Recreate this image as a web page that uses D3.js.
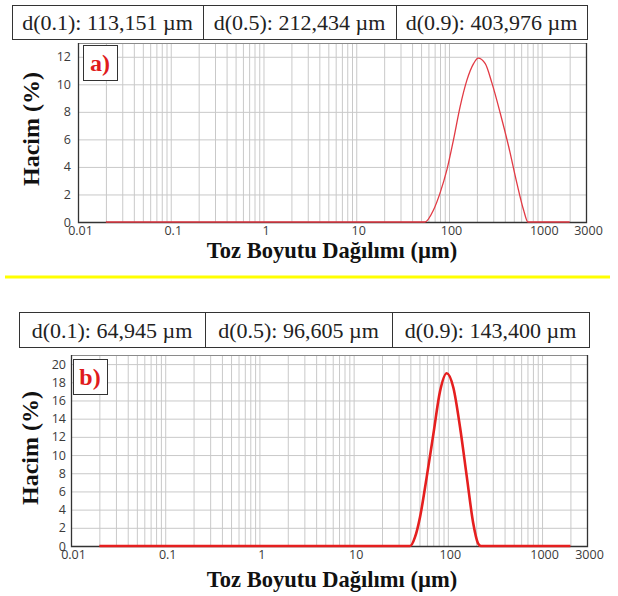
<!DOCTYPE html>
<html lang="tr">
<head>
<meta charset="utf-8">
<script src="https://d3js.org/d3.v7.min.js"></script>
<style>
  body { margin: 0; background: #fff; }
  svg { display: block; }
  .tick text { font-family: "Open Sans", sans-serif; font-size: 12.5px; fill: #3a3a3a; }
</style>
</head>
<body>
<div id="chart"></div>
<script>
// x axis (log scale, micrometres)
var xTickValues = [0.01, 0.1, 1, 10, 100, 1000, 3000];
var xTickLabels = ["0.01", "0.1", "1", "10", "100", "1000", "3000"];

// panel a) values
var statLabelsA = ["d(0.1): 113,151 µm", "d(0.5): 212,434 µm", "d(0.9): 403,976 µm"];
var sizesA  = [0.02, 55, 68, 80, 95, 112, 132, 156, 184, 206, 246, 290, 357, 439, 540, 637, 710, 2000];
var volumeA = [0, 0, 0.87, 2.1, 3.8, 6.0, 8.4, 10.3, 11.5, 11.9, 11.5, 10.1, 7.9, 5.5, 2.8, 0.87, 0, 0];
var yTicksA = [0, 2, 4, 6, 8, 10, 12];

// panel b)
var statLabelsB = ["d(0.1): 64,945 µm", "d(0.5): 96,605 µm", "d(0.9): 143,400 µm"];
var sizesB  = [0.02, 39.7, 44.9, 50.7, 59.7, 70.2, 82.6, 97.3, 114.5, 135, 159, 186, 209, 225, 2000];
var volumeB = [0, 0, 1.0, 3.2, 7.6, 12.3, 17.0, 19.0, 17.4, 13.0, 7.6, 2.5, 0.3, 0, 0];
var yTicksB = [0, 2, 4, 6, 8, 10, 12, 14, 16, 18, 20];

var xTitle = "Toz Boyutu Dağılımı (µm)";
var yTitle = "Hacim (%)";

var svg = d3.select("#chart").append("svg")
    .attr("width", 618)
    .attr("height", 596);

function drawPanel(p) {
    var g = svg.append("g");

    var x = d3.scaleLog()
        .domain([0.01, 3000])
        .range([p.left, p.right]);

    var y = d3.scaleLinear()
        .domain([0, p.yMax])
        .range([p.bottom, p.top]);

    // stat boxes above the plot
    var boxes = g.append("g");
    p.boxX.slice(0, -1).forEach(function(bx, i) {
        boxes.append("rect")
            .attr("x", bx + 0.5).attr("y", p.boxY + 0.5)
            .attr("width", p.boxX[i + 1] - bx).attr("height", p.boxH)
            .attr("fill", "#fff").attr("stroke", "#333").attr("stroke-width", 1);
        boxes.append("text")
            .attr("x", (bx + p.boxX[i + 1]) / 2)
            .attr("y", p.boxY + p.boxH / 2 + 8)
            .attr("text-anchor", "middle")
            .style("font-family", "'Liberation Serif', serif")
            .style("font-size", "22px")
            .attr("fill", "#222")
            .text(p.stats[i]);
    });

    // vertical grid (all log ticks)
    g.append("g")
        .attr("transform", "translate(0," + p.bottom + ")")
        .call(d3.axisBottom(x).tickValues(x.ticks()).tickSize(-(p.bottom - p.top)).tickFormat(""))
        .call(function(s) {
            s.select(".domain").remove();
            s.selectAll("line").attr("stroke", "#c9c9c9");
        });

    // horizontal grid
    g.append("g")
        .attr("transform", "translate(" + p.left + ",0)")
        .call(d3.axisLeft(y).tickValues(p.yTicks).tickSize(-(p.right - p.left)).tickFormat(""))
        .call(function(s) {
            s.select(".domain").remove();
            s.selectAll("line").attr("stroke", "#c9c9c9");
        });

    // frame
    g.append("rect")
        .attr("x", p.left + 0.5).attr("y", p.top + 0.5)
        .attr("width", p.right - p.left).attr("height", p.bottom - p.top)
        .attr("fill", "none").attr("stroke", "#8a8a8a");
    g.append("path")
        .attr("d", "M" + (p.left + 0.5) + "," + p.top + "V" + (p.bottom + 0.5) + "H" + (p.right + 0.5) + "V" + p.top)
        .attr("fill", "none").attr("stroke", "#333").attr("stroke-width", 1.3);

    // tick labels
    g.append("g")
        .attr("transform", "translate(0," + (p.bottom + 1) + ")")
        .call(d3.axisBottom(x).tickValues(xTickValues).tickSize(0)
            .tickFormat(function(d, i) { return xTickLabels[i]; }))
        .call(function(s) {
            s.select(".domain").remove();
            s.selectAll("text").attr("dx", 2);
        });

    g.append("g")
        .attr("transform", "translate(" + (p.left - p.yLabelGap) + ",0)")
        .call(d3.axisLeft(y).tickValues(p.yTicks).tickSize(0))
        .call(function(s) { s.select(".domain").remove(); });

    // distribution curve
    var line = d3.line()
        .x(function(d) { return x(d[0]); })
        .y(function(d) { return y(d[1]); })
        .curve(d3.curveMonotoneX);

    g.append("path")
        .datum(d3.zip(p.sizes, p.volume))
        .attr("fill", "none")
        .attr("stroke", p.lineColor)
        .attr("stroke-width", p.lineWidth)
        .attr("d", line);

    // panel tag a) / b)
    g.append("rect")
        .attr("x", p.tag[0] + 0.5).attr("y", p.tag[1] + 0.5)
        .attr("width", 34).attr("height", 35)
        .attr("fill", "#fff").attr("stroke", "#333");
    g.append("text")
        .attr("x", p.tag[0] + 17).attr("y", p.tag[1] + 26)
        .attr("text-anchor", "middle")
        .style("font-family", "'Liberation Serif', serif")
        .style("font-size", "24px").style("font-weight", "bold")
        .attr("fill", "#e01b1b")
        .text(p.tagText);

    // axis titles
    g.append("text")
        .attr("x", 332).attr("y", p.xTitleY)
        .attr("text-anchor", "middle")
        .style("font-family", "'Liberation Serif', serif")
        .style("font-size", "22.5px").style("font-weight", "bold")
        .attr("fill", "#111")
        .text(xTitle);

    g.append("text")
        .attr("transform", "translate(" + p.yTitle[0] + "," + p.yTitle[1] + ") rotate(-90)")
        .attr("text-anchor", "middle")
        .style("font-family", "'Liberation Serif', serif")
        .style("font-size", "24px").style("font-weight", "bold")
        .attr("fill", "#111")
        .text(yTitle);
}

drawPanel({
    left: 78, right: 586, top: 43, bottom: 222, yMax: 13, yTicks: yTicksA, yLabelGap: 4,
    sizes: sizesA, volume: volumeA, lineColor: "#e23a44", lineWidth: 1.3,
    stats: statLabelsA, boxX: [12, 203, 396, 587], boxY: 5, boxH: 34,
    tag: [83, 45], tagText: "a)", xTitleY: 258, yTitle: [39, 129]
});

drawPanel({
    left: 71, right: 587, top: 355, bottom: 546, yMax: 21, yTicks: yTicksB, yLabelGap: 2,
    sizes: sizesB, volume: volumeB, lineColor: "#e51f1f", lineWidth: 2.6,
    stats: statLabelsB, boxX: [19, 205, 392, 589], boxY: 312, boxH: 35,
    tag: [73, 359], tagText: "b)", xTitleY: 587, yTitle: [38, 448]
});

// yellow separator
svg.append("line")
    .attr("x1", 5).attr("x2", 610)
    .attr("y1", 277).attr("y2", 277)
    .attr("stroke", "#ffff00").attr("stroke-width", 3);
</script>
</body>
</html>
